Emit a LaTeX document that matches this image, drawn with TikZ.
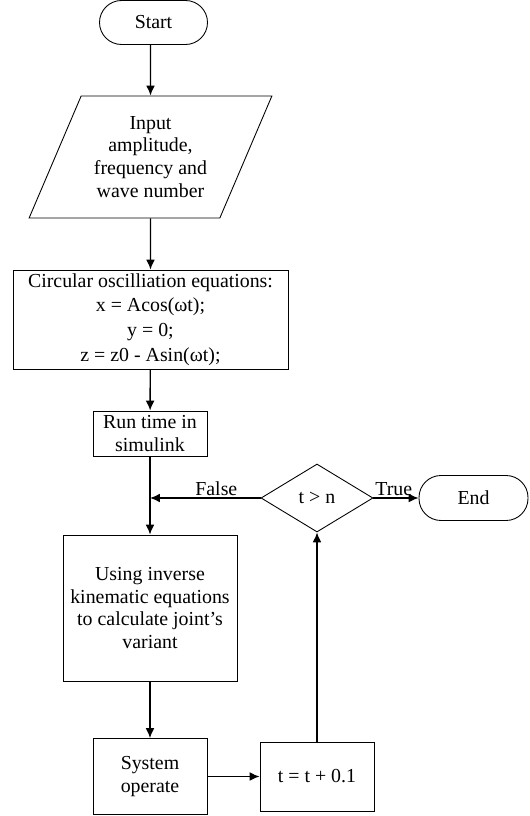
\documentclass[tikz,border=0pt]{standalone}
\usepackage{fontspec}
\setmainfont{Liberation Serif}
\usetikzlibrary{arrows.meta, shapes.geometric}

\begin{document}
\begin{tikzpicture}[auto, >={Latex[length=5.6pt,width=5pt]}, font=\fontsize{11.3}{13}\selectfont]
  \tikzset{
    box/.style={draw, rectangle, align=center, inner sep=2pt, line width=0.5pt},
    term/.style={draw, rectangle, rounded corners=0.44cm, minimum width=2.16cm, minimum height=0.88cm, line width=0.5pt},
    io/.style={draw, trapezium, trapezium left angle=63.4, trapezium right angle=116.6, trapezium stretches, align=center, line width=0.5pt},
    dec/.style={draw, diamond, aspect=1.65, inner sep=0pt, line width=0.5pt},
    line/.style={->, line width=0.8pt}
  }
  \useasboundingbox (0,0) rectangle (10.58,-16.32);

  \node (start) at (3.07,-0.45) [term] {Start};
  \node (input) at (3.01,-3.14) [io, minimum width=4.86cm, minimum height=2.44cm] {Input\\amplitude,\\frequency and\\wave number};
  \node (circ) at (3.01,-6.39) [box, minimum width=5.5cm, minimum height=1.98cm, font=\fontsize{11.3}{14}\selectfont] {Circular oscilliation equations:\\x = Acos(ωt);\\y = 0;\\z = z0 - Asin(ωt);};
  \node (run) at (3.0,-8.67) [box, minimum width=2.28cm, minimum height=0.9cm] {Run time in\\simulink};
  \node (using) at (3.0,-12.16) [box, minimum width=3.48cm, minimum height=2.92cm] {Using inverse\\kinematic equations\\to calculate joint’s\\variant};
  \node (sysop) at (3.0,-15.53) [box, minimum width=2.28cm, minimum height=1.52cm] {System\\operate};
  \node (tinc) at (6.34,-15.53) [box, minimum width=2.28cm, minimum height=1.38cm] {t = t + 0.1};
  \node (cond) at (6.34,-9.96) [dec, minimum width=2.24cm, minimum height=1.36cm] {t > n};
  \node (end) at (9.47,-9.96) [term, minimum width=2.18cm, minimum height=0.9cm] {End};
  \coordinate (join) at (3.0,-9.96); % False joins the main line here

  \draw[line] (start.south -| input) -- (input);
  \draw[line] (input) -- (circ);
  \draw[line] (circ) -- (run);
  \draw[line] (run) -- (using);
  \draw[line] (using) -- (sysop);
  \draw[line] (sysop) -- (tinc);
  \draw[line] (tinc) -- (cond);
  \draw[line] (cond) -- node[above, pos=0.4, inner sep=1pt] {False} (join);
  \draw[line] (cond) -- node[above, pos=0.45, inner sep=1pt] {True} (end);
\end{tikzpicture}
\end{document}
